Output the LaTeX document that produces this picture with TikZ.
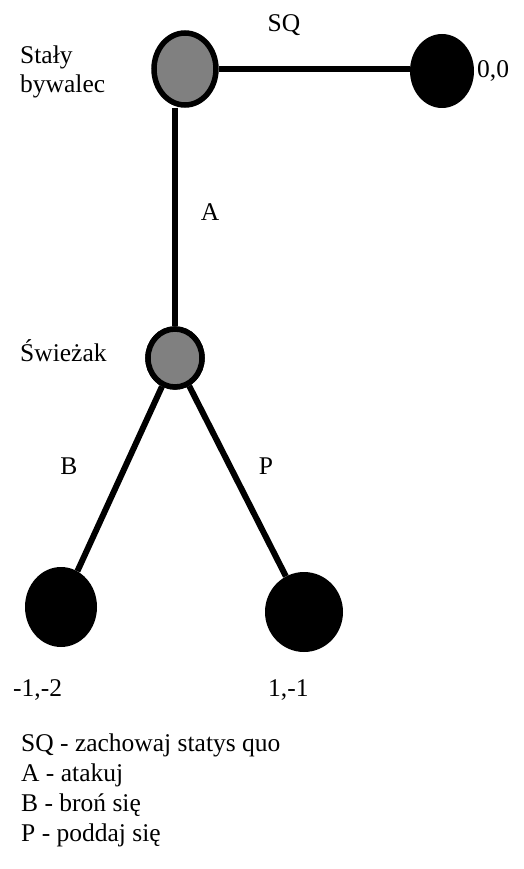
\documentclass[tikz,border=0pt]{standalone}
\usepackage{fontspec}
\setmainfont{Liberation Serif}
\usetikzlibrary{shapes.geometric}
\begin{document}
\begin{tikzpicture}[x=1pt,y=-1pt,
  edge/.style={line width=6pt},
  decnode/.style={ellipse, draw, line width=5.5pt, fill=black!50, inner sep=0pt},
  endnode/.style={ellipse, fill=black, inner sep=0pt},
  lbl/.style={font=\fontsize{25.5}{29}\selectfont, inner sep=0pt}]
\useasboundingbox (0,0) rectangle (523,869);
\node[decnode, minimum width=62pt, minimum height=72pt] (top) at (185,69) {};
\node[endnode, minimum width=64pt, minimum height=74pt] (sq) at (442,71) {};
\node[decnode, minimum width=54pt, minimum height=58pt] (frsh) at (175,358) {};
\node[endnode, minimum width=72pt, minimum height=80pt] (lb) at (61,607) {};
\node[endnode, minimum width=78pt, minimum height=80pt] (rb) at (304,612) {};
\draw[edge] (top.east) -- (sq.west |- top.east);
\draw[edge] (frsh |- top.south) -- (frsh.north);
\draw[edge] (frsh) -- (lb);
\draw[edge] (frsh) -- (rb);
\node[decnode, minimum width=54pt, minimum height=58pt] at (frsh) {};
\node[lbl, anchor=north west, align=left] (stb) at (20,46) {Stały\\bywalec};
\node[lbl] (lsq) at (284,25) {SQ};
\node[lbl, anchor=west] (l00) at (477,71) {0,0};
\node[lbl] (la) at (210,212) {A};
\node[lbl, anchor=west] (lsw) at (20,351) {Świeżak};
\node[lbl] (lb2) at (69,466) {B};
\node[lbl] (lp) at (266,466) {P};
\node[lbl, anchor=west] (lm12) at (13,690) {-1,-2};
\node[lbl, anchor=west] (l11) at (268,690) {1,-1};
\node[lbl, anchor=north west, align=left, font=\fontsize{25.5}{30}\selectfont] (leg) at (21,734) {SQ - zachowaj statys quo\\A - atakuj\\B - broń się\\P - poddaj się};
\end{tikzpicture}
\end{document}
